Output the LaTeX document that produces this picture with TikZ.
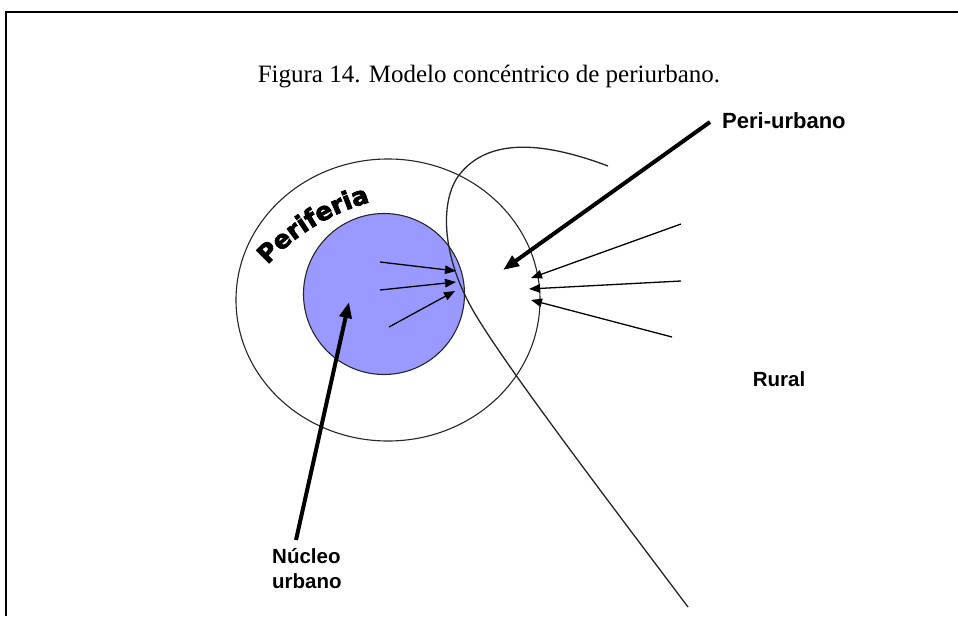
\documentclass[tikz,border=0pt]{standalone}
\usepackage{fontspec}
\setmainfont{Liberation Serif}
\newfontfamily\arialfont{Liberation Sans}
\newfontfamily\perifont{DejaVu Sans}[BoldFeatures={FakeBold=3}]
\usetikzlibrary{arrows.meta,decorations.text}
\definecolor{nucleo}{RGB}{153,153,255}
\begin{document}
\begin{tikzpicture}[x=1pt,y=-1pt,
  thinline/.style={line width=1.1pt,draw=black!85},
  smallarrow/.style={line width=1.3pt,-{Triangle[length=11pt,width=8.5pt]}},
  bigarrow/.style={line width=4pt,-{Triangle[length=16pt,width=12pt]}},
  label/.style={font=\arialfont\bfseries\fontsize{20.5}{25}\selectfont,inner sep=0pt}]
\useasboundingbox (0,0) rectangle (958,616);
\fill[white] (0,0) rectangle (958,616);
% frame
\draw[line width=1.6pt] (6,616) -- (6,12) -- (958,12);
% title
\node[font=\fontsize{25}{30}\selectfont,inner sep=0pt] (title) at (489,77) {Figura 14. Modelo concéntrico de periurbano.};
% circles
\draw[thinline] (388,300) ellipse [x radius=152, y radius=141];
\draw[thinline,fill=nucleo] (384,294) circle [radius=80.5];
% peri-urban curve
\coordinate (c0) at (608,166);
\coordinate (c1) at (457,178);
\coordinate (c2) at (470,305);
\coordinate (c3) at (688,607);
\draw[thinline,line width=1.3pt] (c0) .. controls (560,148) and (490,130) .. (c1)
  .. controls (440,205) and (443,255) .. (c2)
  .. controls (495,352) and (600,490) .. (c3);
% Periferia curved text
\path[decorate,decoration={text along path,text align=center,
  text={|\perifont\bfseries\fontsize{25}{25}\selectfont|Periferia}}]
  (429.5,414) ++(-139:220) arc[start angle=-139,end angle=-104,radius=220];
% labels
\node[label,anchor=west,font=\arialfont\bfseries\fontsize{22}{25}\selectfont] (peri) at (722,121) {Peri-urbano};
\node[label] (rural) at (779,379) {Rural};
\node[label,anchor=north west,align=left] (nuc) at (272,548) {Núcleo\\urbano};
% coordinates for arrows
\coordinate (pa0) at (710,122); \coordinate (pa1) at (503,270);
\coordinate (na0) at (296,540); \coordinate (na1) at (349,302);
\coordinate (i1a) at (380,262); \coordinate (i1b) at (456,271);
\coordinate (i2a) at (380,290); \coordinate (i2b) at (456,282);
\coordinate (i3a) at (389,327); \coordinate (i3b) at (455,291);
\coordinate (r1a) at (681,224); \coordinate (r1b) at (531,278);
\coordinate (r2a) at (681,281); \coordinate (r2b) at (529,289);
\coordinate (r3a) at (672,337); \coordinate (r3b) at (531,300);
% arrows
\draw[bigarrow] (pa0) -- (pa1);
\draw[bigarrow] (na0) -- (na1);
\draw[smallarrow] (i1a) -- (i1b);
\draw[smallarrow] (i2a) -- (i2b);
\draw[smallarrow] (i3a) -- (i3b);
\draw[smallarrow] (r1a) -- (r1b);
\draw[smallarrow] (r2a) -- (r2b);
\draw[smallarrow] (r3a) -- (r3b);
\end{tikzpicture}
\end{document}
